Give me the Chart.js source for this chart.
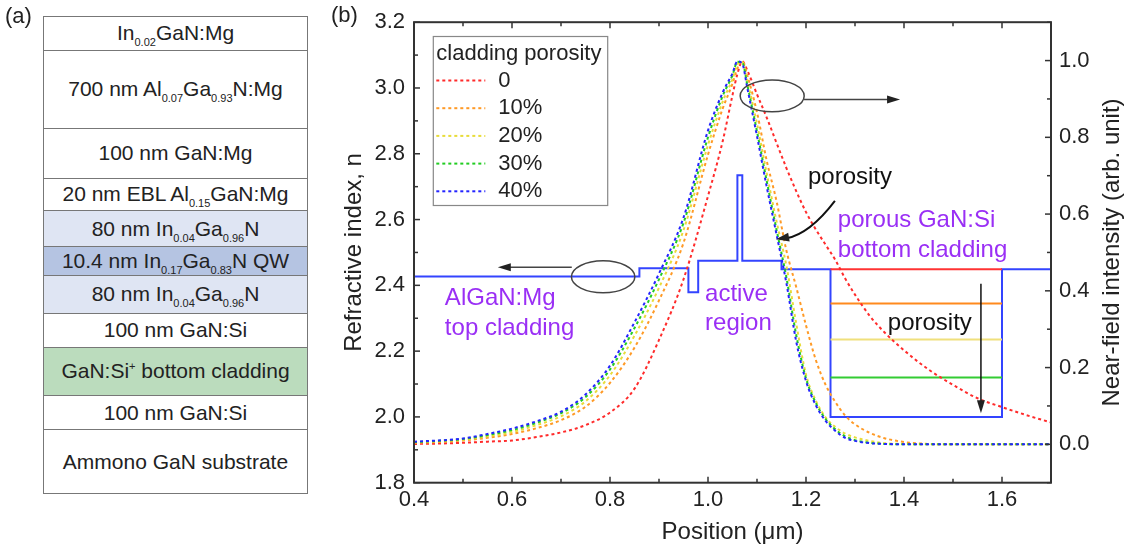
<!DOCTYPE html>
<html><head><meta charset="utf-8">
<script src="https://cdn.jsdelivr.net/npm/chart.js@4.4.1/dist/chart.umd.min.js"></script>
<style>
html,body{margin:0;padding:0;background:#fff;}
#wrap{position:relative;width:1127px;height:548px;overflow:hidden;font-family:"Liberation Sans",Arial,sans-serif;color:#222;}
#c{position:absolute;left:0;top:0;z-index:0;}
#pa{position:absolute;left:43px;top:15.7px;width:265px;box-sizing:border-box;border:1.5px solid #777;z-index:2;background:#fff;}
#pa div{box-sizing:border-box;border-top:1.5px solid #777;display:flex;align-items:center;justify-content:center;font-size:21px;white-space:nowrap;}
#pa div:first-child{border-top:none;}
#pa span{display:inline-block;line-height:24px;}
#pa sub{font-size:11px;vertical-align:-6px;line-height:0;}
#pa sup{font-size:11px;vertical-align:8px;line-height:0;}
#lblA{position:absolute;left:5px;top:3px;font-size:22px;z-index:2;}
</style></head>
<body><div id="wrap">
<canvas id="c" width="1127" height="548"></canvas>
<div id="lblA">(a)</div>
<div id="pa">
<div style="height:33.6px"><span>In<sub>0.02</sub>GaN:Mg</span></div>
<div style="height:77.4px"><span>700 nm Al<sub>0.07</sub>Ga<sub>0.93</sub>N:Mg</span></div>
<div style="height:50px"><span>100 nm GaN:Mg</span></div>
<div style="height:32.6px"><span>20 nm EBL Al<sub>0.15</sub>GaN:Mg</span></div>
<div style="height:35.7px;background:#dfe5f3"><span>80 nm In<sub>0.04</sub>Ga<sub>0.96</sub>N</span></div>
<div style="height:29px;background:#b5c4e2"><span>10.4 nm In<sub>0.17</sub>Ga<sub>0.83</sub>N QW</span></div>
<div style="height:37.7px;background:#dfe5f3"><span>80 nm In<sub>0.04</sub>Ga<sub>0.96</sub>N</span></div>
<div style="height:34.3px"><span>100 nm GaN:Si</span></div>
<div style="height:48px;background:#bbdcbd"><span>GaN:Si<sup>+</sup> bottom cladding</span></div>
<div style="height:34.3px"><span>100 nm GaN:Si</span></div>
<div style="height:64px"><span>Ammono GaN substrate</span></div>
</div>
</div>
<script>
// ---------- data ----------
const positionUm = [0.40,0.45,0.50,0.55,0.60,0.65,0.70,0.75,0.80,0.85,0.90,0.95,1.00,1.03,1.05,1.06,1.07,1.08,1.10,1.12,1.14,1.16,1.18,1.20,1.22,1.24,1.26,1.28,1.30,1.33,1.36,1.40,1.45,1.50,1.55,1.60,1.65,1.70];
const nearField0  = [0.001,0.002,0.004,0.007,0.010,0.019,0.031,0.050,0.083,0.145,0.272,0.430,0.647,0.790,0.910,0.965,0.998,0.975,0.912,0.851,0.785,0.720,0.660,0.605,0.560,0.520,0.480,0.432,0.390,0.335,0.292,0.245,0.195,0.155,0.120,0.097,0.076,0.057];
const nearField10 = [0.004,0.006,0.010,0.017,0.027,0.042,0.063,0.098,0.160,0.252,0.375,0.525,0.755,0.875,0.940,0.980,0.998,0.962,0.865,0.738,0.633,0.505,0.410,0.310,0.220,0.155,0.110,0.075,0.052,0.030,0.016,0.006,0.001,0,0,0,0,0];
const nearField20 = [0.005,0.008,0.012,0.021,0.032,0.050,0.073,0.112,0.180,0.283,0.408,0.558,0.780,0.893,0.952,0.990,0.997,0.948,0.835,0.705,0.580,0.465,0.315,0.182,0.114,0.070,0.045,0.028,0.018,0.009,0.003,0.001,0,0,0,0,0,0];
const nearField30 = [0.006,0.009,0.014,0.024,0.037,0.056,0.081,0.123,0.195,0.303,0.430,0.577,0.800,0.908,0.962,0.997,0.995,0.938,0.815,0.685,0.558,0.435,0.285,0.172,0.108,0.066,0.039,0.021,0.011,0.004,0.001,0,0,0,0,0,0,0];
const nearField40 = [0.007,0.010,0.015,0.027,0.041,0.060,0.085,0.130,0.205,0.318,0.445,0.591,0.818,0.917,0.967,0.998,0.992,0.930,0.803,0.670,0.546,0.420,0.268,0.165,0.102,0.061,0.035,0.017,0.009,0.003,0.001,0,0,0,0,0,0,0];
const porosityNames = ['0','10%','20%','30%','40%'];
const layerEdgeUm = [0.40,0.86,0.96,0.98,1.06,1.07,1.15,1.25,1.60,1.70];
const layerIndexN = [2.427,2.452,2.379,2.475,2.735,2.475,2.449,2.000,2.449,2.449];
const porousCladStartUm = 1.25, porousCladEndUm = 1.60;
const porousCladIndexN = [2.449,2.345,2.235,2.120,2.000];
const xTickValues = [0.4,0.6,0.8,1.0,1.2,1.4,1.6];
const yTickValues = [1.8,2.0,2.2,2.4,2.6,2.8,3.0,3.2];
const y2TickValues = [0.0,0.2,0.4,0.6,0.8,1.0];

// ---------- styles ----------
const FONT = '"Liberation Sans", Arial, sans-serif';
const curveColors = ['#ff2b2b','#ff9a26','#e8dc3a','#22cc22','#2424ff'];
const levelColors = ['#ff3333','#ff8a1e','#f0e07c','#33cc33'];
const PURPLE = '#9a2ff5';
const nearFields = [nearField0,nearField10,nearField20,nearField30,nearField40];

const datasets = [];
datasets.push({
  label:'profile', yAxisID:'y', order:20,
  data: layerEdgeUm.map((p,i)=>({x:p,y:layerIndexN[i]})),
  stepped:'before', borderColor:'#3344ff', borderWidth:2, pointRadius:0, fill:false
});
for (let k=0;k<4;k++){
  datasets.push({
    label:'level'+k, yAxisID:'y', order:10,
    data:[{x:porousCladStartUm,y:porousCladIndexN[k]},{x:porousCladEndUm,y:porousCladIndexN[k]}],
    borderColor:levelColors[k], borderWidth:2, pointRadius:0, fill:false
  });
}
nearFields.forEach((arr,k)=>{
  datasets.push({
    label:porosityNames[k], yAxisID:'y2', order:5-k,
    data: positionUm.map((p,i)=>({x:p,y:arr[i]})),
    borderColor:curveColors[k], borderWidth:2, borderDash:[3,3],
    pointRadius:0, fill:false, cubicInterpolationMode:'monotone'
  });
});

function arrowHead(ctx, x, y, ang, len, w){
  ctx.save(); ctx.translate(x,y); ctx.rotate(ang);
  ctx.beginPath(); ctx.moveTo(0,0); ctx.lineTo(-len,-w/2); ctx.lineTo(-len,w/2); ctx.closePath(); ctx.fill();
  ctx.restore();
}

const decor = {
  id:'decor',
  afterDatasetsDraw(chart){
    const {ctx, chartArea:a, scales:{x,y,y2}} = chart;
    const px = v=>x.getPixelForValue(v), py = v=>y.getPixelForValue(v);
    ctx.save();
    // frame
    ctx.strokeStyle='#333'; ctx.lineWidth=2;
    ctx.strokeRect(a.left,a.top,a.right-a.left,a.bottom-a.top);
    // inward ticks
    ctx.lineWidth=1.5;
    const line=(x1,y1,x2,y2)=>{ctx.beginPath();ctx.moveTo(x1,y1);ctx.lineTo(x2,y2);ctx.stroke();};
    for(let v=0.4; v<1.701; v+=0.1){
      const major = Math.abs(Math.round(v*10)%2)===0;
      const L = major?6:4, X=px(v);
      line(X,a.bottom,X,a.bottom-L); line(X,a.top,X,a.top+L);
    }
    for(let v=1.8; v<3.201; v+=0.1){
      const major = Math.round(v*10)%2===0;
      const Y=py(v); line(a.left,Y,a.left+(major?6:4),Y);
    }
    for(let v=-0.1; v<1.101; v+=0.1){
      const major = Math.round(v*10)%2===0;
      const Y=y2.getPixelForValue(v); line(a.right,Y,a.right-(major?6:4),Y);
    }
    // right axis title
    ctx.fillStyle='#222'; ctx.font='24px '+FONT; ctx.textAlign='center'; ctx.textBaseline='middle';
    ctx.save(); ctx.translate(1112,(a.top+a.bottom)/2); ctx.rotate(-Math.PI/2);
    ctx.fillText('Near-field intensity (arb. unit)',0,0); ctx.restore();
    // (b)
    ctx.font='22px '+FONT; ctx.textAlign='left'; ctx.fillText('(b)',331,16);

    // ellipses & arrows
    ctx.strokeStyle='#444'; ctx.fillStyle='#222'; ctx.lineWidth=1.5;
    const ell=(cx,cy,rx,ry)=>{ctx.beginPath();ctx.ellipse(px(cx),py(cy),Math.abs(px(cx+rx)-px(cx)),Math.abs(py(cy+ry)-py(cy)),0,0,Math.PI*2);ctx.stroke();};
    ell(0.786,2.426,0.0647,0.0485);
    line(px(0.722),py(2.455),px(0.585),py(2.455)); arrowHead(ctx,px(0.571),py(2.455),Math.PI,13,8);
    ell(1.131,2.976,0.0653,0.0485);
    line(px(1.196),py(2.965),px(1.378),py(2.965)); arrowHead(ctx,px(1.392),py(2.965),0,13,8);
    // curved arrow
    ctx.strokeStyle='#111'; ctx.lineWidth=2;
    ctx.beginPath(); ctx.moveTo(px(1.259),py(2.657)); ctx.quadraticCurveTo(px(1.208),py(2.557),px(1.160),py(2.543)); ctx.stroke();
    arrowHead(ctx,px(1.139),py(2.540),Math.atan2(py(2.540)-py(2.548),px(1.139)-px(1.170)),13,9);
    // vertical arrow
    ctx.lineWidth=1.5;
    line(px(1.557),py(2.405),px(1.557),py(2.045)); arrowHead(ctx,px(1.557),py(2.011),Math.PI/2,13,8);

    // texts
    ctx.textAlign='left'; ctx.textBaseline='middle';
    ctx.font='24px '+FONT; ctx.fillStyle='#111';
    ctx.fillText('porosity',px(1.204),py(2.729));
    ctx.fillText('porosity',px(1.367),py(2.284));
    ctx.fillStyle=PURPLE;
    ctx.fillText('porous GaN:Si',px(1.265),py(2.596));
    ctx.fillText('bottom cladding',px(1.265),py(2.505));
    ctx.fillText('AlGaN:Mg',px(0.463),py(2.360));
    ctx.fillText('top cladding',px(0.463),py(2.269));
    ctx.fillText('active',px(0.994),py(2.372));
    ctx.fillText('region',px(0.994),py(2.284));

    // legend
    const lx=a.left+19.3, ly=a.top+14.3, lw=174.4, lh=169;
    ctx.fillStyle='#fff'; ctx.fillRect(lx,ly,lw,lh);
    ctx.strokeStyle='#888'; ctx.lineWidth=1.2; ctx.strokeRect(lx,ly,lw,lh);
    ctx.fillStyle='#222'; ctx.font='22px '+FONT;
    ctx.fillText('cladding porosity',lx+3,ly+17);
    porosityNames.forEach((nm,k)=>{
      const ry = ly+44+k*27.7;
      ctx.strokeStyle=curveColors[k]; ctx.lineWidth=2; ctx.setLineDash([3,3]);
      line(lx+3,ry,lx+52,ry); ctx.setLineDash([]);
      ctx.fillStyle='#222'; ctx.fillText(nm,lx+65,ry);
    });
    ctx.restore();
  }
};

const tickFont = {size:22,family:FONT};
new Chart(document.getElementById('c'),{
  type:'line',
  data:{datasets},
  options:{
    responsive:false, animation:false, events:[], devicePixelRatio:1,
    layout:{padding:{left:330,top:20.7,right:0,bottom:0}},
    plugins:{legend:{display:false},tooltip:{enabled:false}},
    scales:{
      x:{type:'linear',position:'bottom',min:0.4,max:1.7,
        afterBuildTicks:s=>{s.ticks=xTickValues.map(v=>({value:v}));},
        afterFit:s=>{s.height=65.3;},
        grid:{display:false,drawTicks:false},border:{display:false},
        ticks:{font:tickFont,color:'#222',padding:4,maxRotation:0,autoSkip:false,callback:v=>Number(v).toFixed(1)},
        title:{display:true,text:'Position (μm)',font:{size:24,family:FONT},color:'#222',padding:{top:0,bottom:1}}
      },
      y:{type:'linear',position:'left',min:1.8,max:3.2,
        afterBuildTicks:s=>{s.ticks=yTickValues.map(v=>({value:v}));},
        afterFit:s=>{s.width=84;},
        grid:{display:false,drawTicks:false},border:{display:false},
        ticks:{font:tickFont,color:'#222',padding:9,autoSkip:false,callback:v=>Number(v).toFixed(1)},
        title:{display:true,text:'Refractive index, n',font:{size:24,family:FONT},color:'#222',padding:{top:9.6,bottom:0}}
      },
      y2:{type:'linear',position:'right',min:-0.1,max:1.1,
        afterBuildTicks:s=>{s.ticks=y2TickValues.map(v=>({value:v}));},
        afterFit:s=>{s.width=76;},
        grid:{display:false,drawTicks:false},border:{display:false},
        ticks:{font:tickFont,color:'#222',padding:8,autoSkip:false,callback:v=>Number(v).toFixed(1)}
      }
    }
  },
  plugins:[decor]
});
</script>
</body></html>
